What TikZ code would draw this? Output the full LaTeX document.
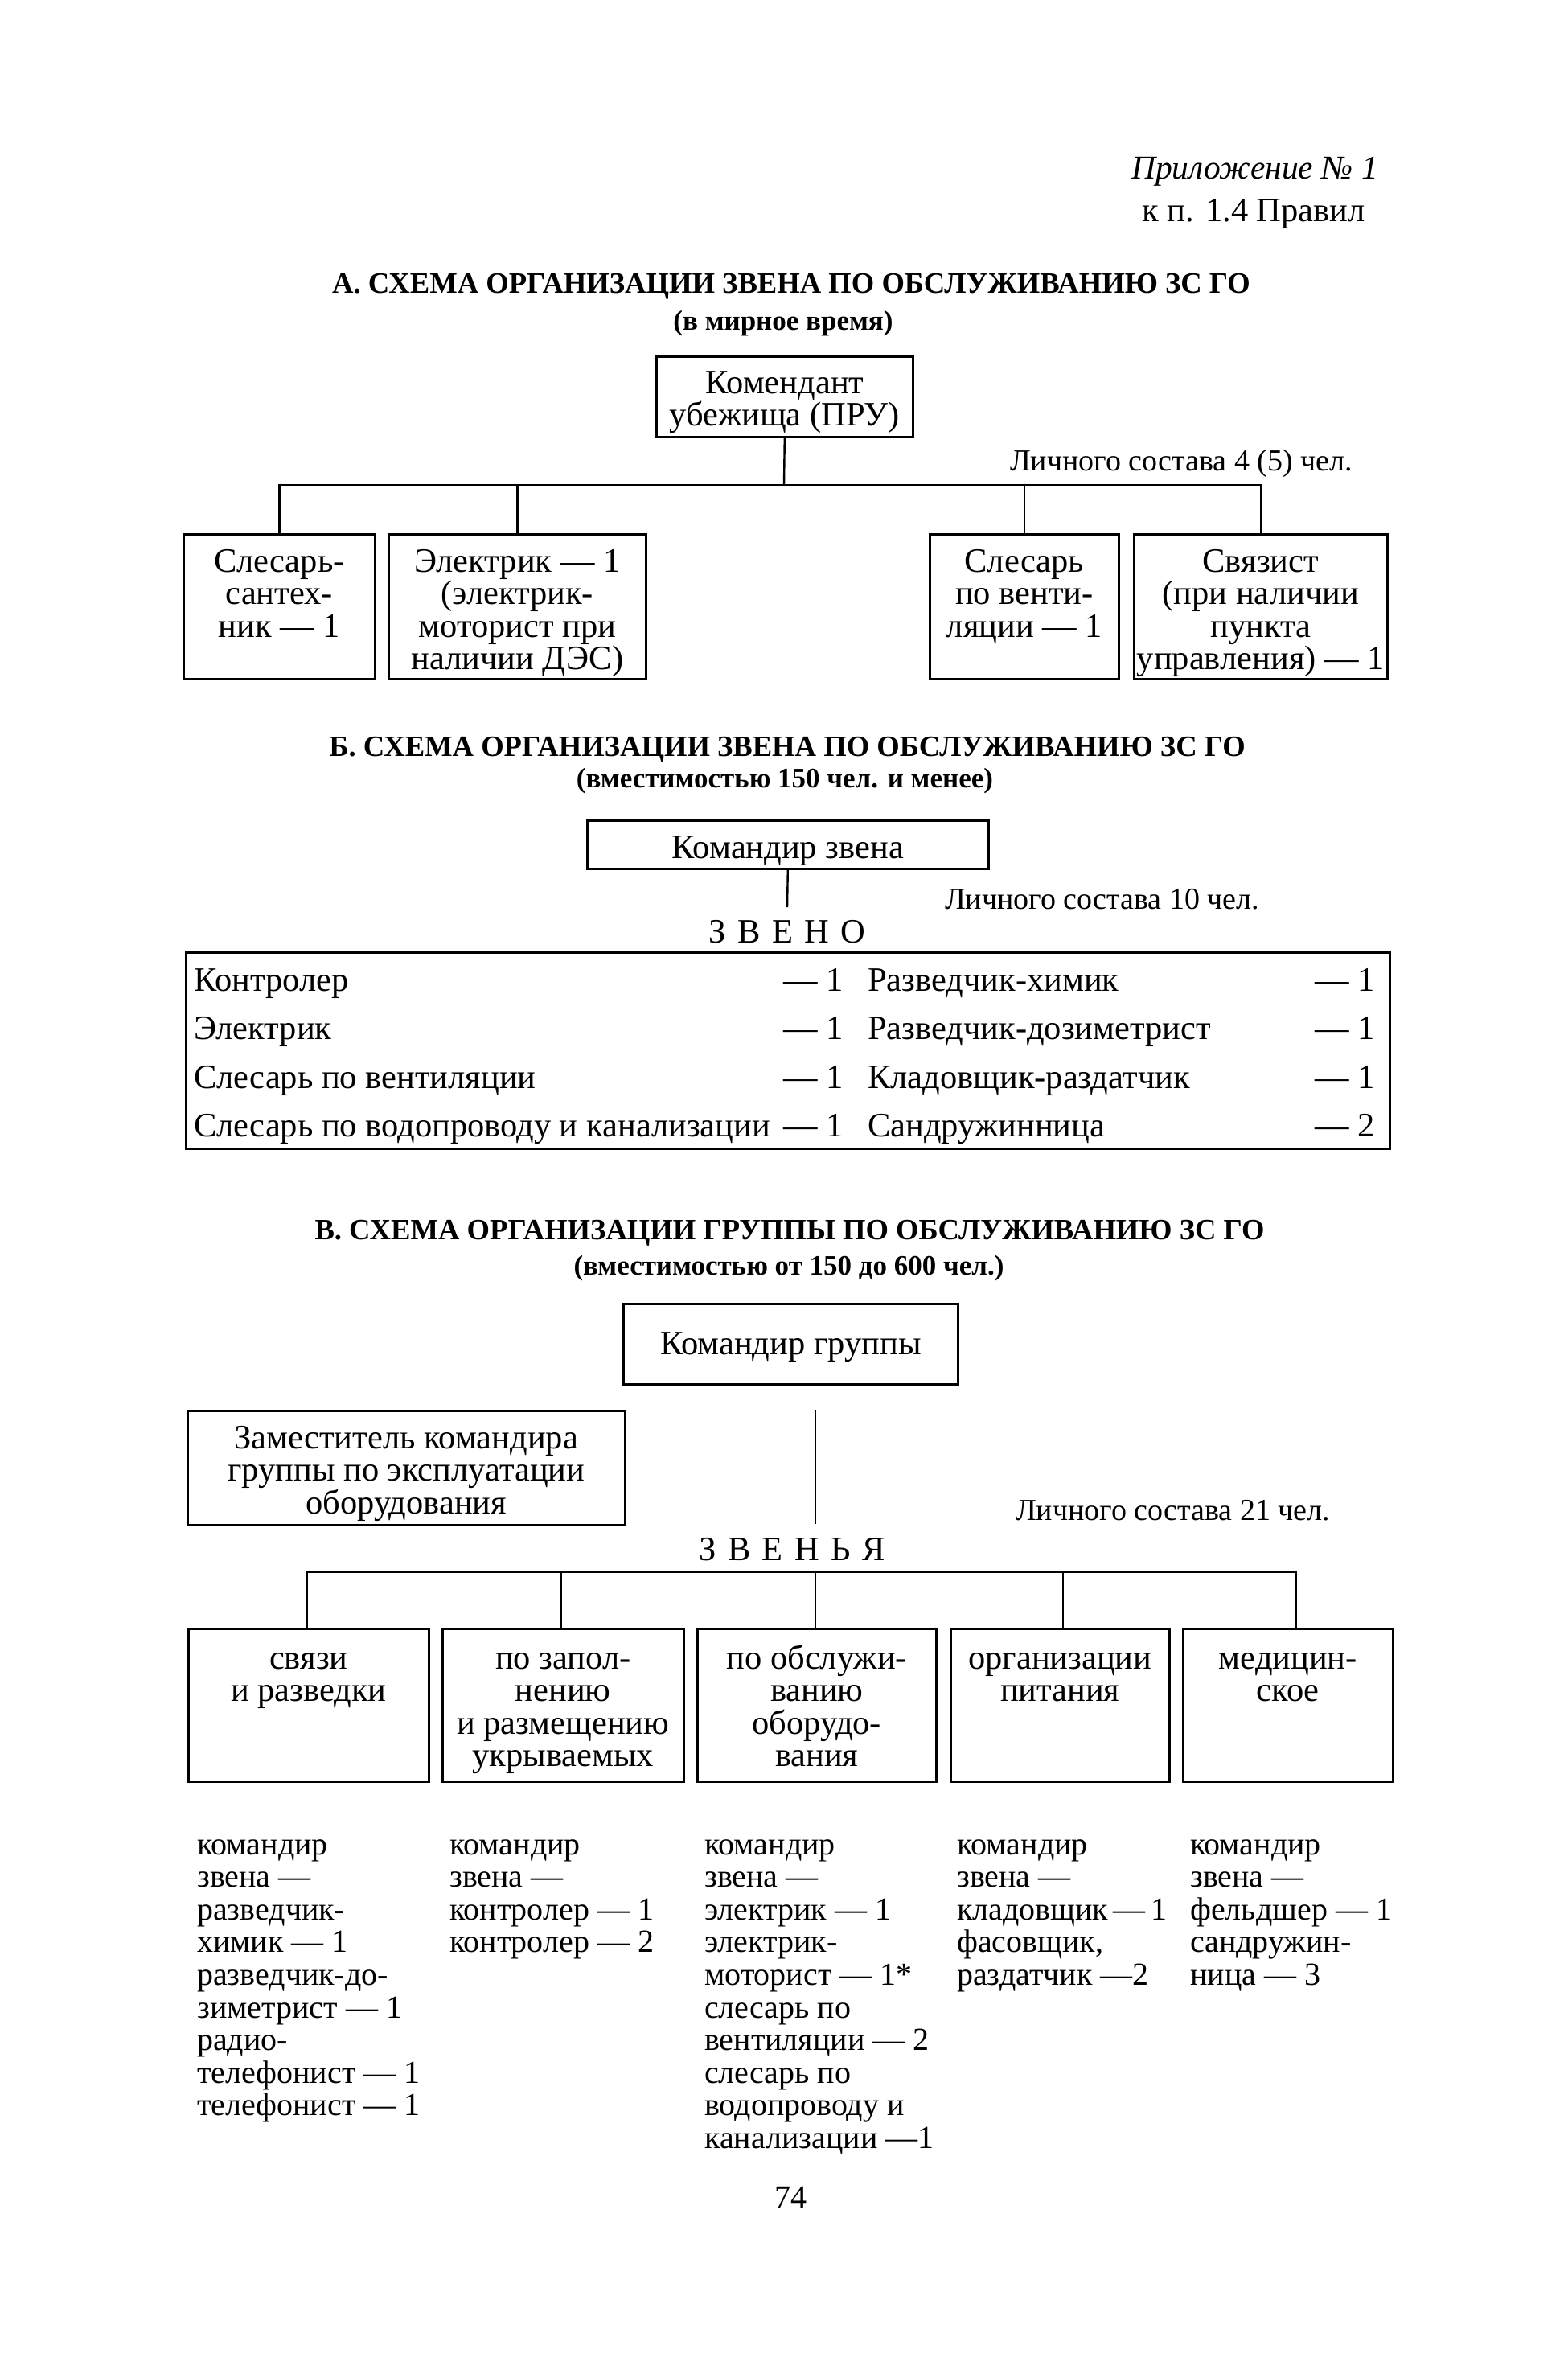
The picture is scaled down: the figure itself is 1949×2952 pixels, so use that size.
\documentclass[tikz,border=0pt]{standalone}
\usepackage{fontspec}
\setmainfont{Liberation Serif}
\newcommand\bodyf{\fontsize{38}{40.5}\selectfont}
\newcommand\boxf{\fontsize{42.5}{40.5}\selectfont}
\newcommand\listf{\fontsize{40}{40.6}\selectfont}
\newcommand\titf{\fontsize{36.6}{40}\selectfont\bfseries}
\newcommand\subf{\fontsize{35}{38}\selectfont\bfseries}
\newcommand\lsp{\hspace{14.5pt}}
\begin{document}
\begin{tikzpicture}[x=1pt,y=-1pt,
  box/.style={draw, line width=2.6pt, inner sep=0pt, anchor=north west, font=\boxf},
  txt/.style={inner sep=0pt, font=\bodyf},
  btxt/.style={inner sep=0pt, font=\boxf},
  conn/.style={line width=2.4pt}]
\useasboundingbox[fill=white] (0,0) rectangle (1949,2952);

% header
\node[inner sep=0pt, anchor=base east, font=\fontsize{41.5}{44}\selectfont\itshape] (h1) at (1714,222) {Приложение № 1};
\node[inner sep=0pt, anchor=base east, font=\fontsize{42.5}{44}\selectfont] (h2) at (1698,275) {к п. 1.4 Правил};

% ===== A =====
\node[inner sep=0pt, anchor=base, font=\titf] (tA) at (984,364) {А. СХЕМА ОРГАНИЗАЦИИ ЗВЕНА ПО ОБСЛУЖИВАНИЮ ЗС ГО};
\node[inner sep=0pt, anchor=base, font=\subf] (sA) at (974,410) {(в мирное время)};

\node[box] (kom) at (815,442) {\parbox[t][100pt][t]{319pt}{\centering\rule{0pt}{46pt}Комендант\\убежища (ПРУ)}};
\node[txt, anchor=base west] (lA) at (1256,585) {Личного состава 4 (5) чел.};

\node[box] (a1) at (227,663) {\parbox[t][180pt][t]{238pt}{\centering\rule{0pt}{47pt}Слесарь-\\сантех-\\ник — 1}};
\node[box] (a2) at (482,663) {\parbox[t][180pt][t]{320pt}{\centering\rule{0pt}{47pt}Электрик — 1\\(электрик-\\моторист при\\наличии ДЭС)}};
\node[box] (a3) at (1155,663) {\parbox[t][180pt][t]{235pt}{\centering\rule{0pt}{47pt}Слесарь\\по венти-\\ляции — 1}};
\node[box] (a4) at (1409,663) {\parbox[t][180pt][t]{315pt}{\centering\rule{0pt}{47pt}Связист\\(при наличии\\пункта\\управления) — 1}};

\coordinate (ja) at (975,603);
\draw[conn] (kom.south) -- (ja);
\draw[conn] (a1.north) -- (a1.north |- ja) -- (a4.north |- ja) -- (a4.north);
\draw[conn] (a2.north) -- (a2.north |- ja);
\draw[conn] (a3.north) -- (a3.north |- ja);

% ===== Б =====
\node[inner sep=0pt, anchor=base, font=\titf] (tB) at (979,940) {Б. СХЕМА ОРГАНИЗАЦИИ ЗВЕНА ПО ОБСЛУЖИВАНИЮ ЗС ГО};
\node[inner sep=0pt, anchor=base, font=\subf] (sB) at (976,979) {(вместимостью 150 чел. и менее)};

\node[box] (kz) at (729,1019) {\parbox[t][60pt][t]{499pt}{\centering\rule{0pt}{47pt}Командир звена}};
\coordinate (zb) at (979,1128);
\draw[conn] (kz.south) -- (zb);
\node[txt, anchor=base west] (lB) at (1175,1130) {Личного состава 10 чел.};
\node[btxt, anchor=base] (zveno) at (979,1172) {З\lsp В\lsp Е\lsp Н\lsp О};

\node[box, minimum width=1497pt, minimum height=244pt] (tb) at (230,1183) {};
\node[btxt, anchor=base west] (r1l) at (241,1232) {Контролер};
\node[btxt, anchor=base east] (r1n) at (1049,1232) {— 1};
\node[btxt, anchor=base west] (r1r) at (1079,1232) {Разведчик-химик};
\node[btxt, anchor=base east] (r1m) at (1710,1232) {— 1};
\node[btxt, anchor=base west] (r2l) at (241,1292) {Электрик};
\node[btxt, anchor=base east] (r2n) at (1049,1292) {— 1};
\node[btxt, anchor=base west] (r2r) at (1079,1292) {Разведчик-дозиметрист};
\node[btxt, anchor=base east] (r2m) at (1710,1292) {— 1};
\node[btxt, anchor=base west] (r3l) at (241,1353) {Слесарь по вентиляции};
\node[btxt, anchor=base east] (r3n) at (1049,1353) {— 1};
\node[btxt, anchor=base west] (r3r) at (1079,1353) {Кладовщик-раздатчик};
\node[btxt, anchor=base east] (r3m) at (1710,1353) {— 1};
\node[btxt, anchor=base west] (r4l) at (241,1413) {Слесарь по водопроводу и канализации};
\node[btxt, anchor=base east] (r4n) at (1049,1413) {— 1};
\node[btxt, anchor=base west] (r4r) at (1079,1413) {Сандружинница};
\node[btxt, anchor=base east] (r4m) at (1710,1413) {— 2};

% ===== В =====
\node[inner sep=0pt, anchor=base, font=\titf] (tC) at (982,1541) {В. СХЕМА ОРГАНИЗАЦИИ ГРУППЫ ПО ОБСЛУЖИВАНИЮ ЗС ГО};
\node[inner sep=0pt, anchor=base, font=\subf] (sC) at (981,1585) {(вместимостью от 150 до 600 чел.)};

\node[box] (kg) at (774,1620) {\parbox[t][100pt][t]{416pt}{\centering\rule{0pt}{63pt}Командир группы}};
\node[box] (zam) at (232,1753) {\parbox[t][142pt][t]{544pt}{\centering\rule{0pt}{47pt}Заместитель командира\\группы по эксплуатации\\оборудования}};
\coordinate (vt) at (1014,1753);
\coordinate (vb) at (1014,1895);
\draw[conn] (vt) -- (vb);
\node[txt, anchor=base west] (lC) at (1263,1890) {Личного состава 21 чел.};
\node[btxt, anchor=base] (zvenya) at (985,1940) {З\lsp В\lsp Е\lsp Н\lsp Ь\lsp Я};

\node[box] (b1) at (233,2024) {\parbox[t][190pt][t]{299pt}{\centering\rule{0pt}{50pt}связи\\и разведки}};
\node[box] (b2) at (549,2024) {\parbox[t][190pt][t]{300pt}{\centering\rule{0pt}{50pt}по запол-\\нению\\и размещению\\укрываемых}};
\node[box] (b3) at (866,2024) {\parbox[t][190pt][t]{297pt}{\centering\rule{0pt}{50pt}по обслужи-\\ванию\\оборудо-\\вания}};
\node[box] (b4) at (1181,2024) {\parbox[t][190pt][t]{272pt}{\centering\rule{0pt}{50pt}организации\\питания}};
\node[box] (b5) at (1470,2024) {\parbox[t][190pt][t]{261pt}{\centering\rule{0pt}{50pt}медицин-\\ское}};

\coordinate (busL) at (382,1955);
\coordinate (busR) at (1612,1955);
\coordinate (d2) at (698,1955);
\coordinate (d3) at (1014,1955);
\coordinate (d4) at (1322,1955);
\draw[conn] (busL |- b1.north) -- (busL) -- (busR) -- (busR |- b5.north);
\draw[conn] (d2) -- (d2 |- b2.north);
\draw[conn] (d3) -- (d3 |- b3.north);
\draw[conn] (d4) -- (d4 |- b4.north);

% lists
\node[inner sep=0pt, font=\listf, anchor=base west] (c1) at (245,2306) {\parbox[t]{310pt}{\raggedright командир\\звена —\\разведчик-\\химик — 1\\разведчик-до-\\зиметрист — 1\\радио-\\телефонист — 1\\телефонист — 1}};
\node[inner sep=0pt, font=\listf, anchor=base west] (c2) at (559,2306) {\parbox[t]{310pt}{\raggedright командир\\звена —\\контролер — 1\\контролер — 2}};
\node[inner sep=0pt, font=\listf, anchor=base west] (c3) at (876,2306) {\parbox[t]{310pt}{\raggedright командир\\звена —\\электрик — 1\\электрик-\\моторист — 1*\\слесарь по\\вентиляции — 2\\слесарь по\\водопроводу и\\канализации —1}};
\node[inner sep=0pt, font=\listf, anchor=base west] (c4) at (1190,2306) {\parbox[t]{300pt}{\raggedright командир\\звена —\\кладовщик\,—\,1\\фасовщик,\\раздатчик —2}};
\node[inner sep=0pt, font=\listf, anchor=base west] (c5) at (1480,2306) {\parbox[t]{300pt}{\raggedright командир\\звена —\\фельдшер — 1\\сандружин-\\ница — 3}};

\node[inner sep=0pt, font=\listf, anchor=base] (pg) at (983,2745) {74};
\end{tikzpicture}
\end{document}
